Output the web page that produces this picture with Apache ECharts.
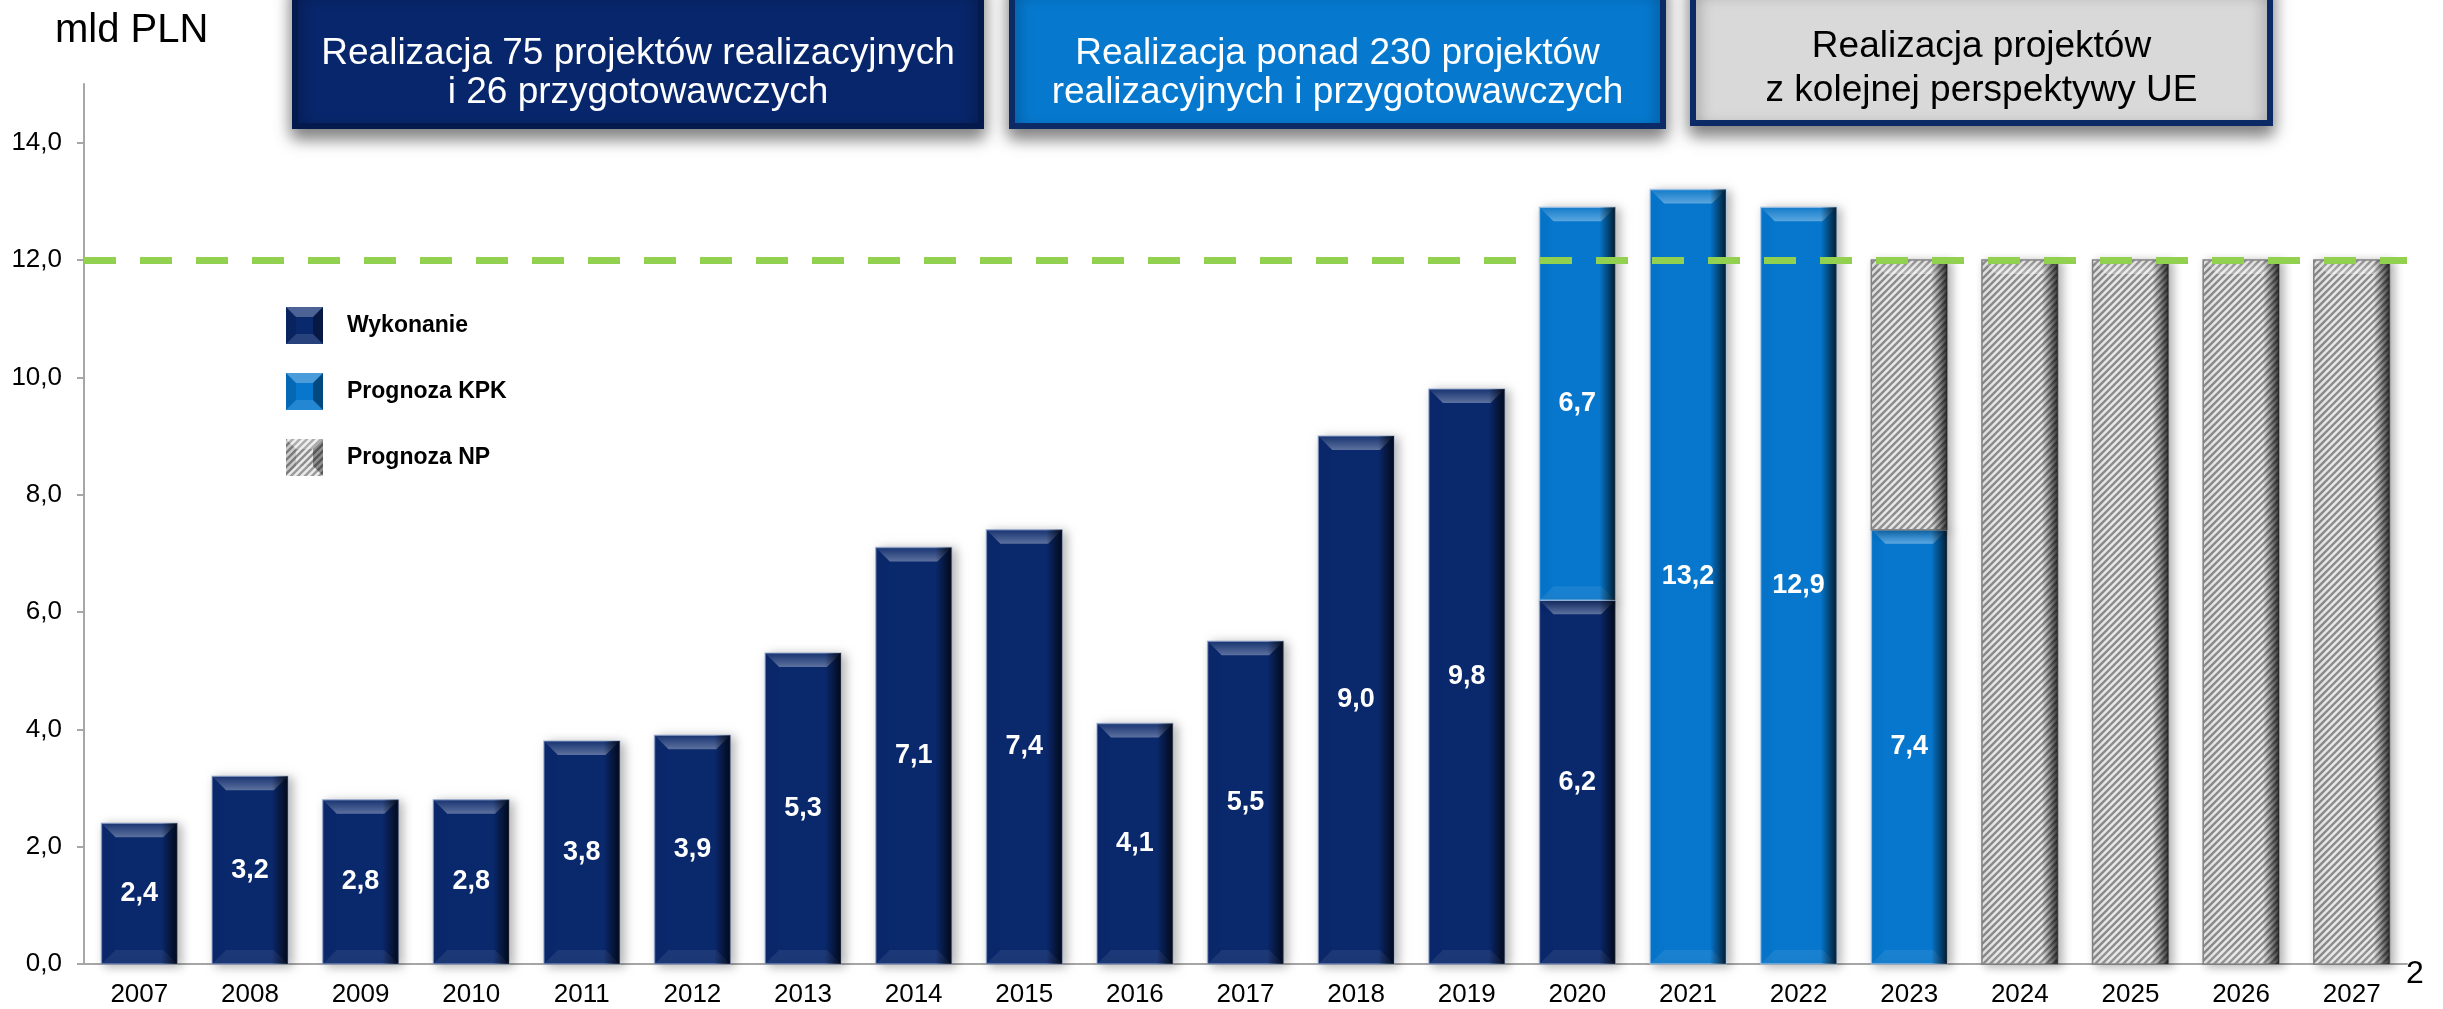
<!DOCTYPE html>
<html>
<head>
<meta charset="utf-8">
<title>Realizacja projektów – mld PLN</title>
<script src="https://cdn.jsdelivr.net/npm/echarts@6/dist/echarts.min.js"></script>
<style>
  html, body { margin: 0; padding: 0; background: #fff; }
  #chart { width: 2443px; height: 1009px; }
</style>
</head>
<body>
<div id="chart"></div>
<script>
// --- data ---
const years = ['2007', '2008', '2009', '2010', '2011', '2012', '2013', '2014', '2015', '2016', '2017',
  '2018', '2019', '2020', '2021', '2022', '2023', '2024', '2025', '2026', '2027'];
const wykonanie = [2.4, 3.2, 2.8, 2.8, 3.8, 3.9, 5.3, 7.1, 7.4, 4.1, 5.5, 9.0, 9.8, 6.2,
  null, null, null, null, null, null, null];
const prognozaKPK = [null, null, null, null, null, null, null, null, null, null, null, null, null, 6.7,
  13.2, 12.9, 7.4, null, null, null, null];
const prognozaNP = [null, null, null, null, null, null, null, null, null, null, null, null, null, null,
  null, null, 4.6, 12.0, 12.0, 12.0, 12.0];
const yTicks = [0, 2, 4, 6, 8, 10, 12, 14];
const targetLevel = 12.0;
const seriesNames = ['Wykonanie', 'Prognoza KPK', 'Prognoza NP'];
const headerTexts = [
  'Realizacja 75 projektów realizacyjnych\ni 26 przygotowawczych',
  'Realizacja ponad 230 projektów\nrealizacyjnych i przygotowawczych',
  'Realizacja projektów\nz kolejnej perspektywy UE'
];

const FONT = '"Liberation Sans", Arial, sans-serif';
const fmt = (v) => v.toFixed(1).replace('.', ',');

// grey diagonal hatch used for the NP forecast
function makeHatch() {
  const c = document.createElement('canvas');
  c.width = c.height = 7;
  const g = c.getContext('2d');
  g.fillStyle = '#e8e8e8';
  g.fillRect(0, 0, 7, 7);
  g.strokeStyle = '#8c8c8c';
  g.lineWidth = 2.4;
  g.beginPath();
  g.moveTo(-1, 8); g.lineTo(8, -1);
  g.moveTo(-1, 1); g.lineTo(1, -1);
  g.moveTo(6, 8); g.lineTo(8, 6);
  g.stroke();
  return c;
}
const hatch = makeHatch();

// bevelled square for the legend
function swatch(fill) {
  const s = 37, b = 10;
  const c = document.createElement('canvas');
  c.width = c.height = s;
  const g = c.getContext('2d');
  g.fillStyle = fill === 'hatch' ? g.createPattern(hatch, 'repeat') : fill;
  g.fillRect(0, 0, s, s);
  const faces = [
    [[[0, 0], [s, 0], [s - b, b], [b, b]], 'rgba(255,255,255,0.28)'],
    [[[s, 0], [s, s], [s - b, s - b], [s - b, b]], 'rgba(0,0,0,0.38)'],
    [[[0, s], [s, s], [s - b, s - b], [b, s - b]], 'rgba(255,255,255,0.12)'],
    [[[0, 0], [0, s], [b, s - b], [b, b]], 'rgba(0,0,0,0.12)']
  ];
  faces.forEach(([pts, col]) => {
    g.beginPath();
    pts.forEach((p, i) => (i ? g.lineTo(p[0], p[1]) : g.moveTo(p[0], p[1])));
    g.closePath();
    g.fillStyle = col;
    g.fill();
  });
  return 'image://' + c.toDataURL();
}

const looks = [
  { fill: '#0a286c', edge: 'rgba(150,170,210,0.6)', label: true },
  { fill: '#0677cd', edge: 'rgba(170,200,235,0.7)', label: true },
  { fill: { type: 'pattern', image: hatch, repeat: 'repeat' }, edge: '#808080', label: false }
];

// stack each series on top of the ones before it
const allSeries = [wykonanie, prognozaKPK, prognozaNP];
function stackRows(k) {
  const rows = [];
  allSeries[k].forEach((v, i) => {
    if (v == null) return;
    let base = 0;
    for (let j = 0; j < k; j++) base += allSeries[j][i] || 0;
    rows.push([i, base, base + v, v]);
  });
  return rows;
}

function bevelBar(look) {
  return function (params, api) {
    const bottom = api.coord([api.value(0), api.value(1)]);
    const top = api.coord([api.value(0), api.value(2)]);
    const bw = api.size([1, 0])[0] * 0.685;
    const x = bottom[0] - bw / 2;
    const y = top[1];
    const h = bottom[1] - top[1];
    const b = Math.min(14, h / 3);
    const children = [
      {
        type: 'rect',
        shape: { x: x, y: y, width: bw, height: h },
        style: {
          fill: look.fill, stroke: look.edge, lineWidth: 1.5,
          shadowBlur: 10, shadowOffsetX: 4, shadowOffsetY: 2, shadowColor: 'rgba(0,0,0,0.3)'
        }
      },
      {
        type: 'polygon',
        shape: { points: [[x, y], [x + bw, y], [x + bw - b, y + b], [x + b, y + b]] },
        style: {
          fill: new echarts.graphic.LinearGradient(0, 0, 0, 1, [
            { offset: 0, color: 'rgba(255,255,255,0.06)' },
            { offset: 1, color: 'rgba(255,255,255,0.34)' }
          ])
        }
      },
      {
        type: 'polygon',
        shape: { points: [[x, y + h], [x + bw, y + h], [x + bw - b, y + h - b], [x + b, y + h - b]] },
        style: { fill: 'rgba(255,255,255,0.08)' }
      },
      {
        type: 'rect',
        shape: { x: x + bw - 16, y: y, width: 16, height: h },
        style: {
          fill: new echarts.graphic.LinearGradient(0, 0, 1, 0, [
            { offset: 0, color: 'rgba(0,0,0,0)' },
            { offset: 1, color: 'rgba(0,0,0,0.75)' }
          ])
        }
      }
    ];
    if (look.label) {
      children.push({
        type: 'text',
        style: {
          text: fmt(api.value(3)),
          x: bottom[0], y: (top[1] + bottom[1]) / 2,
          align: 'center', verticalAlign: 'middle',
          fill: '#fff', font: 'bold 27px ' + FONT
        }
      });
    }
    return { type: 'group', children: children };
  };
}

const chart = echarts.init(document.getElementById('chart'));

const boxes = [
  { x: 295, w: 686, bottom: 126, fill: '#08266b', stroke: '#041a4d', ink: '#fff', cy: 73, lh: 39 },
  { x: 1012, w: 651, bottom: 126, fill: '#0679cf', stroke: '#0b2a66', ink: '#fff', cy: 73, lh: 39 },
  { x: 1693, w: 577, bottom: 123, fill: '#d9d9d9', stroke: '#0c2a66', ink: '#000', cy: 69, lh: 44 }
];
const graphics = [];
boxes.forEach((bx, i) => {
  graphics.push({
    type: 'rect',
    shape: { x: bx.x, y: -20, width: bx.w, height: bx.bottom + 20 },
    style: {
      fill: bx.fill, stroke: bx.stroke, lineWidth: 6,
      shadowBlur: 16, shadowOffsetY: 9, shadowColor: 'rgba(0,0,0,0.5)'
    },
    z: 10
  });
  graphics.push({
    type: 'text',
    style: {
      text: headerTexts[i], x: bx.x + bx.w / 2, y: bx.cy,
      align: 'center', verticalAlign: 'middle', lineHeight: bx.lh,
      fill: bx.ink, font: '37px ' + FONT
    },
    z: 11
  });
});
graphics.push({
  type: 'text',
  style: { text: 'mld PLN', x: 55, y: 31, verticalAlign: 'middle', fill: '#000', font: '40px ' + FONT }
});
graphics.push({
  type: 'text',
  style: { text: '2', x: 2406, y: 974, verticalAlign: 'middle', fill: '#000', font: '32px ' + FONT }
});

const option = {
  animation: false,
  backgroundColor: '#fff',
  textStyle: { fontFamily: FONT },
  grid: { left: 84, right: 36, top: 84, bottom: 45, containLabel: false },
  legend: {
    orient: 'vertical',
    left: 286,
    top: 307,
    padding: 0,
    itemWidth: 37,
    itemHeight: 37,
    itemGap: 29,
    textStyle: { fontSize: 23, fontWeight: 'bold', color: '#000', padding: [0, 0, 0, 19] },
    data: [
      { name: seriesNames[0], icon: swatch('#0a286c') },
      { name: seriesNames[1], icon: swatch('#0677cd') },
      { name: seriesNames[2], icon: swatch('hatch') }
    ]
  },
  xAxis: {
    type: 'category',
    data: years,
    axisLine: { lineStyle: { color: '#a6a6a6', width: 2 } },
    axisTick: { length: 8, lineStyle: { color: '#a6a6a6', width: 2 } },
    axisLabel: { fontSize: 26, color: '#000', margin: 18 }
  },
  yAxis: {
    type: 'value',
    min: 0,
    max: 15,
    interval: 2,
    splitLine: { show: false },
    axisLine: { show: true, lineStyle: { color: '#a6a6a6', width: 2 } },
    axisTick: { show: true, length: 7, customValues: yTicks, lineStyle: { color: '#a6a6a6', width: 2 } },
    axisLabel: { customValues: yTicks, formatter: fmt, fontSize: 26, color: '#000', margin: 22 }
  },
  graphic: graphics,
  series: [
    ...seriesNames.map((name, k) => ({
      name: name,
      type: 'custom',
      renderItem: bevelBar(looks[k]),
      encode: { x: 0, y: [1, 2] },
      itemStyle: { color: k === 2 ? '#b0b0b0' : looks[k].fill },
      data: stackRows(k),
      z: 2
    })),
    {
      name: 'poziom',
      type: 'line',
      data: [],
      z: 5,
      markLine: {
        silent: true,
        symbol: 'none',
        label: { show: false },
        lineStyle: { color: '#92d050', width: 7, type: [32, 24] },
        data: [{ yAxis: targetLevel }]
      }
    }
  ]
};

chart.setOption(option);
window.addEventListener('resize', () => chart.resize());
</script>
</body>
</html>
